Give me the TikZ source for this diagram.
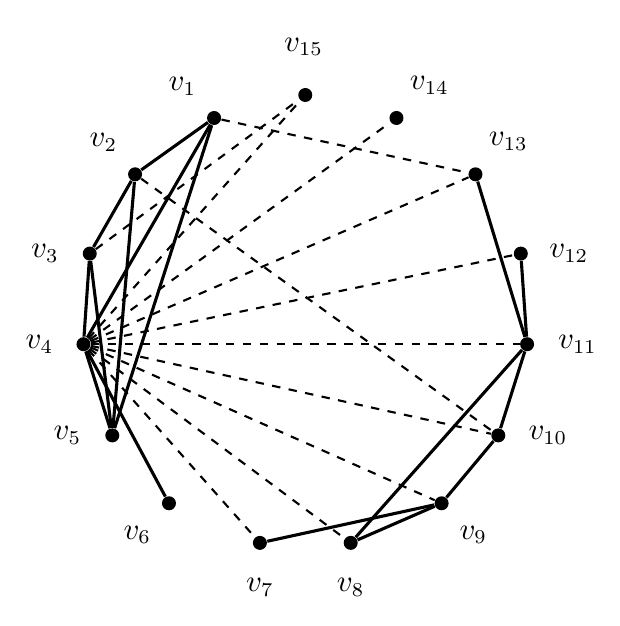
\documentclass[tikz,border=0pt]{standalone}
\usetikzlibrary{calc}
\begin{document}
\begin{tikzpicture}
\tikzset{
  vtx/.style={circle,fill=black,draw=none,inner sep=0pt,minimum size=0.175cm},
  lab/.style={anchor=center,inner sep=0pt,font=\fontsize{10.5}{12}\selectfont},
  solidedge/.style={line width=1.1pt},
  dashededge/.style={line width=0.75pt,dashed}
}
\useasboundingbox (0,0) rectangle (7.75,7.825);
\node[vtx] (v1)  at (2.676,6.35) {};
\node[vtx] (v2)  at (1.6885,5.646) {};
\node[vtx] (v3)  at (1.122,4.655) {};
\node[vtx] (v4)  at (1.0435,3.5225) {};
\node[vtx] (v5)  at (1.4035,2.3825) {};
\node[vtx] (v6)  at (2.112,1.534) {};
\node[vtx] (v7)  at (3.2485,1.039) {};
\node[vtx] (v8)  at (4.3835,1.039) {};
\node[vtx] (v9)  at (5.520,1.534) {};
\node[vtx] (v10) at (6.2285,2.3825) {};
\node[vtx] (v11) at (6.5885,3.5225) {};
\node[vtx] (v12) at (6.510,4.655) {};
\node[vtx] (v13) at (5.9435,5.646) {};
\node[vtx] (v14) at (4.956,6.35) {};
\node[vtx] (v15) at (3.816,6.6375) {};
% labels
\foreach \k/\a/\d in {1/135/0.56,2/135/0.56,3/180/0.56,4/180/0.55,5/180/0.56,6/225/0.56,7/270/0.56,8/270/0.56,9/315/0.56,10/0/0.62,11/0/0.63,12/0/0.60,13/45/0.58,14/45/0.58,15/92/0.60}{
  \node[lab] (l\k) at ([shift={(\a:\d)}]v\k) {$v_{\k}$};
}
% dashed edges
\foreach \a/\b in {1/13,2/10,3/15,4/15,4/14,4/13,4/12,4/11,4/10,4/9,4/8,4/7}{
  \draw[dashededge] (v\a) -- (v\b);
}
% solid edges
\foreach \a/\b in {1/2,2/3,3/4,4/5,3/5,1/4,1/5,2/5,4/6,11/12,11/13,11/8,10/11,9/10,8/9,7/9}{
  \draw[solidedge] (v\a) -- (v\b);
}
\end{tikzpicture}
\end{document}
